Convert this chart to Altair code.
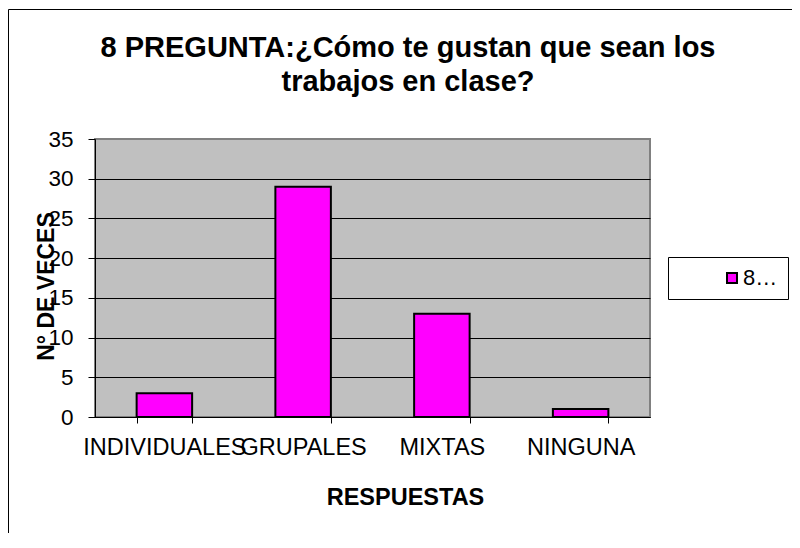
import altair as alt
import pandas as pd

# ---- data ----
categorias = ["INDIVIDUALES", "GRUPALES", "MIXTAS", "NINGUNA"]
valores = [3, 29, 13, 1]
serie = "8 PREGUNTA"
marcas_y = [0, 5, 10, 15, 20, 25, 30, 35]
titulo = ["8 PREGUNTA:¿Cómo te gustan que sean los", "trabajos en clase?"]
titulo_x = "RESPUESTAS"
titulo_y = "N° DE VECES"

df = pd.DataFrame({
    "respuesta": categorias,
    "veces": valores,
    "serie": [serie] * len(categorias),
})

FONT = "Liberation Sans, Arial, sans-serif"

# outer chart frame (decoration)
marco = alt.Chart(alt.Data(values=[{"f": 1}])).mark_rect(
    fill="transparent", stroke="black", strokeWidth=1
).encode(
    x=alt.value(-86.5), x2=alt.value(720),
    y=alt.value(-129.5), y2=alt.value(420),
)

barras = alt.Chart(df).mark_bar(
    fill="#FF00FF", stroke="black", strokeWidth=2
).encode(
    x=alt.X(
        "respuesta:N", sort=categorias,
        scale=alt.Scale(paddingInner=0.6, paddingOuter=0.3),
        axis=alt.Axis(
            title=titulo_x, labelAngle=0, tickBand="extent", tickSize=6,
            labelPadding=12, labelFontSize=23.5, labelOverlap=False,
            labelBound=False, labelFlush=False, labelBaseline="top",
            titleX=310, titleY=87, titleAlign="center",
            titleBaseline="alphabetic", titleFontSize=23.5,
            titleFontWeight="bold", grid=False,
        ),
    ),
    y=alt.Y(
        "veces:Q",
        scale=alt.Scale(domain=[0, 35], nice=False),
        axis=alt.Axis(
            values=marcas_y, title=titulo_y, tickSize=7, labelPadding=15,
            labelFontSize=22.5, titleX=-42, titleY=147, titleAngle=270,
            titleAlign="center", titleBaseline="alphabetic",
            titleFontSize=23, titleFontWeight="bold",
            grid=True,
            gridColor=alt.condition("datum.value === 35", alt.value("#808080"), alt.value("black")),
        ),
    ),
    color=alt.Color(
        "serie:N",
        scale=alt.Scale(domain=[serie], range=["#FF00FF"]),
        legend=alt.Legend(
            title=None, orient="none", legendX=573, legendY=118,
            symbolType="square", symbolSize=100, symbolStrokeColor="black",
            symbolStrokeWidth=2, symbolOffset=43, labelOffset=0,
            labelFontSize=22, labelFont=FONT, labelLimit=36, labelColor="black",
            padding=10, strokeColor="black", fillColor="white",
        ),
    ),
)

chart = alt.layer(marco, barras).properties(
    width=555, height=278,
    autosize=alt.AutoSizeParams(type="none"),
    padding={"left": 87, "top": 131, "right": 142, "bottom": 116},
    title=alt.TitleParams(
        text=titulo, font=FONT, fontSize=29, fontWeight="bold",
        color="black", anchor="middle", dx=35.5, dy=88, offset=0,
        lineHeight=34,
    ),
).configure(
    background="white",
).configure_view(
    fill="#C0C0C0", stroke="#808080", strokeWidth=2,
).configure_axis(
    labelFont=FONT, titleFont=FONT, labelColor="black", titleColor="black",
    domainColor="black", tickColor="black", domainWidth=1, tickWidth=1,
    gridWidth=1,
)

chart.save("out.html", embed_options={"renderer": "svg", "actions": False})
